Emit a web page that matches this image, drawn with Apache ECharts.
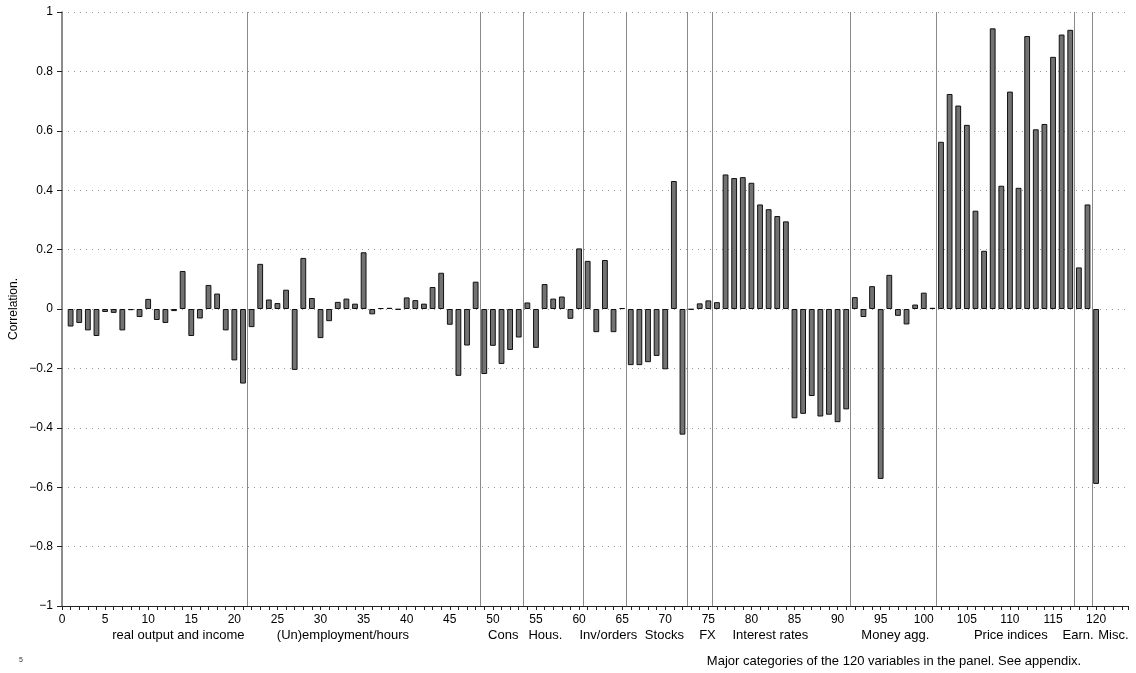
<!DOCTYPE html>
<html>
<head>
<meta charset="utf-8">
<title>Correlation by variable</title>
<script src="https://cdn.jsdelivr.net/npm/echarts@6/dist/echarts.min.js"></script>
<style>
  html, body { margin: 0; padding: 0; background: #fff; }
  #chart { width: 1136px; height: 673px; }
</style>
</head>
<body>
<div id="chart"></div>
<script>
// Correlation of each of the 120 panel variables (variable index 1..120)
const correlations = [
  -0.059, -0.047, -0.072, -0.091, -0.010, -0.013, -0.072, -0.004, -0.027, 0.034,
  -0.037, -0.047, -0.007, 0.128, -0.091, -0.032, 0.081, 0.052, -0.072, -0.173,
  -0.251, -0.061, 0.152, 0.032, 0.020, 0.065, -0.205, 0.172, 0.037, -0.098,
  -0.041, 0.024, 0.035, 0.018, 0.191, -0.018, 0.003, 0.004, -0.002, 0.039,
  0.030, 0.018, 0.074, 0.122, -0.053, -0.225, -0.123, 0.092, -0.219, -0.124,
  -0.185, -0.138, -0.096, 0.022, -0.131, 0.084, 0.035, 0.042, -0.033, 0.204,
  0.162, -0.078, 0.165, -0.078, 0.003, -0.189, -0.189, -0.179, -0.158, -0.203,
  0.431, -0.423, -0.002, 0.019, 0.029, 0.023, 0.453, 0.441, 0.444, 0.425,
  0.352, 0.336, 0.313, 0.295, -0.368, -0.353, -0.293, -0.362, -0.356, -0.381,
  -0.338, 0.040, -0.027, 0.077, -0.572, 0.115, -0.023, -0.052, 0.015, 0.055,
  0.004, 0.563, 0.724, 0.685, 0.620, 0.331, 0.196, 0.945, 0.415, 0.732,
  0.408, 0.919, 0.605, 0.623, 0.849, 0.924, 0.940, 0.140, 0.352, -0.589
];

// Boundaries between the major variable groups
const groupBreaks = [21.5, 48.5, 53.5, 60.5, 65.5, 72.5, 75.5, 91.5, 101.5, 117.5, 119.5];

// Group names and the variable index each name is centred on
const groupNames = ['real output and income', '(Un)employment/hours', 'Cons', 'Hous.',
  'Inv/orders', 'Stocks', 'FX', 'Interest rates', 'Money agg.', 'Price indices', 'Earn.', 'Misc.'];
const groupCenters = [13.5, 32.6, 51.2, 56.1, 63.4, 69.9, 74.9, 82.2, 96.7, 110.1, 117.9, 122.0];

// Axis ranges and tick spacing
const xRange = [0, 123.7];
const xLabelStep = 5;
const xLabelLast = 120;
const yRange = [-1, 1];
const yStep = 0.2;

const FONT = '"Liberation Sans", Arial, Helvetica, sans-serif';

const barData = correlations.map((v, i) => [i + 1, v]);

const chart = echarts.init(document.getElementById('chart'), null, { renderer: 'canvas' });

function fmtY(v) {
  const r = Math.round(v * 10) / 10;
  if (Math.abs(r) < 1e-9) return '0';
  return (r < 0 ? '\u2212' : '') + String(Math.abs(r));
}

chart.setOption({
  animation: false,
  backgroundColor: '#fff',
  grid: { left: 62, right: 8, top: 12, bottom: 67, containLabel: false },
  xAxis: {
    type: 'value',
    min: xRange[0],
    max: xRange[1],
    interval: 1,
    axisLine: { show: true, onZero: false, lineStyle: { color: '#222', width: 1 } },
    axisTick: { show: true, inside: false, length: 4, lineStyle: { color: '#222', width: 1 } },
    axisLabel: {
      show: true,
      margin: 8,
      color: '#000',
      fontFamily: FONT,
      fontSize: 12,
      formatter: function (v) {
        const r = Math.round(v);
        if (Math.abs(v - r) > 1e-6) return '';
        return (r % xLabelStep === 0 && r <= xLabelLast) ? String(r) : '';
      }
    },
    splitLine: { show: false }
  },
  yAxis: {
    type: 'value',
    min: yRange[0],
    max: yRange[1],
    interval: yStep,
    axisLine: { show: true, onZero: false, lineStyle: { color: '#666', width: 1.5 } },
    axisTick: { show: true, inside: false, length: 5, lineStyle: { color: '#222', width: 1 } },
    axisLabel: {
      margin: 9,
      color: '#000',
      fontFamily: FONT,
      fontSize: 12,
      formatter: fmtY
    },
    splitLine: { show: true, lineStyle: { color: '#999', width: 1, type: [1, 5] } }
  },
  series: [{
    type: 'bar',
    data: barData,
    barWidth: 5.8,
    itemStyle: { color: '#727272', borderColor: '#111', borderWidth: 1 },
    markLine: {
      silent: true,
      symbol: ['none', 'none'],
      label: { show: false },
      lineStyle: { color: '#8a8a8a', width: 1, type: 'solid' },
      data: groupBreaks.map(x => ({ xAxis: x }))
    }
  }]
});

// Group names under the tick labels, plus axis title and caption
const extra = groupNames.map((name, i) => {
  const px = chart.convertToPixel({ xAxisIndex: 0 }, groupCenters[i]);
  return {
    type: 'text',
    x: px,
    y: 635,
    style: {
      text: name,
      fill: '#000',
      font: '13px ' + FONT,
      textAlign: 'center',
      textVerticalAlign: 'middle'
    }
  };
});

extra.push({
  type: 'text',
  x: 14,
  y: 309,
  rotation: Math.PI / 2,
  style: {
    text: 'Correlation.',
    fill: '#000',
    font: '12px ' + FONT,
    textAlign: 'center',
    textVerticalAlign: 'middle'
  }
});

extra.push({
  type: 'text',
  x: 894,
  y: 661,
  style: {
    text: 'Major categories of the 120 variables in the panel. See appendix.',
    fill: '#000',
    font: '13px ' + FONT,
    textAlign: 'center',
    textVerticalAlign: 'middle'
  }
});

extra.push({
  type: 'text',
  x: 21,
  y: 660,
  style: {
    text: '5',
    fill: '#333',
    font: '7px ' + FONT,
    textAlign: 'center',
    textVerticalAlign: 'middle'
  }
});

chart.setOption({ graphic: extra });
</script>
</body>
</html>
